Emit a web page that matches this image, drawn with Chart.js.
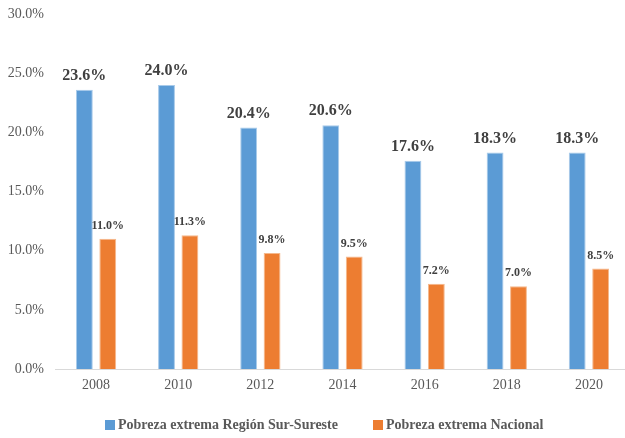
<!DOCTYPE html>
<html>
<head>
<meta charset="utf-8">
<script src="https://cdn.jsdelivr.net/npm/chart.js@4/dist/chart.umd.min.js"></script>
<style>
html,body{margin:0;padding:0;background:#fff;}
#wrap{width:625px;height:438px;position:relative;overflow:hidden;}
canvas{display:block;}
</style>
</head>
<body>
<div id="wrap"><canvas id="c" width="630" height="438"></canvas></div>
<script>
const categories = ["2008","2010","2012","2014","2016","2018","2020"];
const regionValues = [23.6, 24.0, 20.4, 20.6, 17.6, 18.3, 18.3];
const nationalValues = [11.0, 11.3, 9.8, 9.5, 7.2, 7.0, 8.5];
const seriesNames = ["Pobreza extrema Región Sur-Sureste", "Pobreza extrema Nacional"];
const yTicks = [0, 5, 10, 15, 20, 25, 30];

const FONT = "'Liberation Serif', 'Times New Roman', serif";

const labelPlugin = {
  id: 'barLabels',
  afterDatasetsDraw(chart) {
    const ctx = chart.ctx;
    ctx.save();
    ctx.textAlign = 'center';
    ctx.textBaseline = 'bottom';
    ctx.fillStyle = '#404040';
    chart.data.datasets.forEach((ds, di) => {
      const meta = chart.getDatasetMeta(di);
      ctx.font = di === 0 ? "bold 16px " + FONT : "bold 12px " + FONT;
      const gap = di === 0 ? 6 : 7;
      meta.data.forEach((bar, i) => {
        ctx.fillText(ds.data[i].toFixed(1) + '%', bar.x, bar.y - gap);
      });
    });
    ctx.restore();
  }
};

const legendPlugin = {
  id: 'customLegend',
  afterDraw(chart) {
    const ctx = chart.ctx;
    const items = [{ x: 105 }, { x: 373 }];
    ctx.save();
    ctx.font = "bold 14px " + FONT;
    ctx.textBaseline = 'middle';
    ctx.textAlign = 'left';
    chart.data.datasets.forEach((ds, i) => {
      const x = items[i].x, y = 425;
      ctx.fillStyle = ds.backgroundColor;
      ctx.fillRect(x, y - 5, 10, 10);
      ctx.fillStyle = '#595959';
      ctx.fillText(ds.label, x + 13, y);
    });
    ctx.restore();
  }
};

new Chart(document.getElementById('c'), {
  type: 'bar',
  data: {
    labels: categories,
    datasets: [
      { label: seriesNames[0], data: regionValues, backgroundColor: '#5B9BD5', borderColor: '#A9CBEA', borderWidth: 1, categoryPercentage: 0.57, barPercentage: 0.72 },
      { label: seriesNames[1], data: nationalValues, backgroundColor: '#ED7D31', borderColor: '#F5B88C', borderWidth: 1, categoryPercentage: 0.57, barPercentage: 0.72 }
    ]
  },
  options: {
    responsive: false,
    animation: false,
    layout: { padding: { left: 0, right: 0, top: 14, bottom: 44 } },
    plugins: {
      legend: { display: false },
      tooltip: { enabled: false }
    },
    scales: {
      x: {
        afterFit(s) { s.height = 25; },
        grid: { display: false, drawTicks: false },
        border: { display: true, color: '#D9D9D9', width: 1 },
        ticks: { font: { family: FONT, size: 14 }, color: '#595959', padding: 8 }
      },
      y: {
        min: 0, max: 30,
        afterFit(s) { s.width = 55; },
        afterBuildTicks(s) { s.ticks = yTicks.map(v => ({ value: v })); },
        grid: { display: false, drawTicks: false },
        border: { display: false },
        ticks: { font: { family: FONT, size: 14, lineHeight: 0.4 }, color: '#595959', padding: 11, callback: v => v.toFixed(1) + '%' }
      }
    }
  },
  plugins: [labelPlugin, legendPlugin]
});
</script>
</body>
</html>
